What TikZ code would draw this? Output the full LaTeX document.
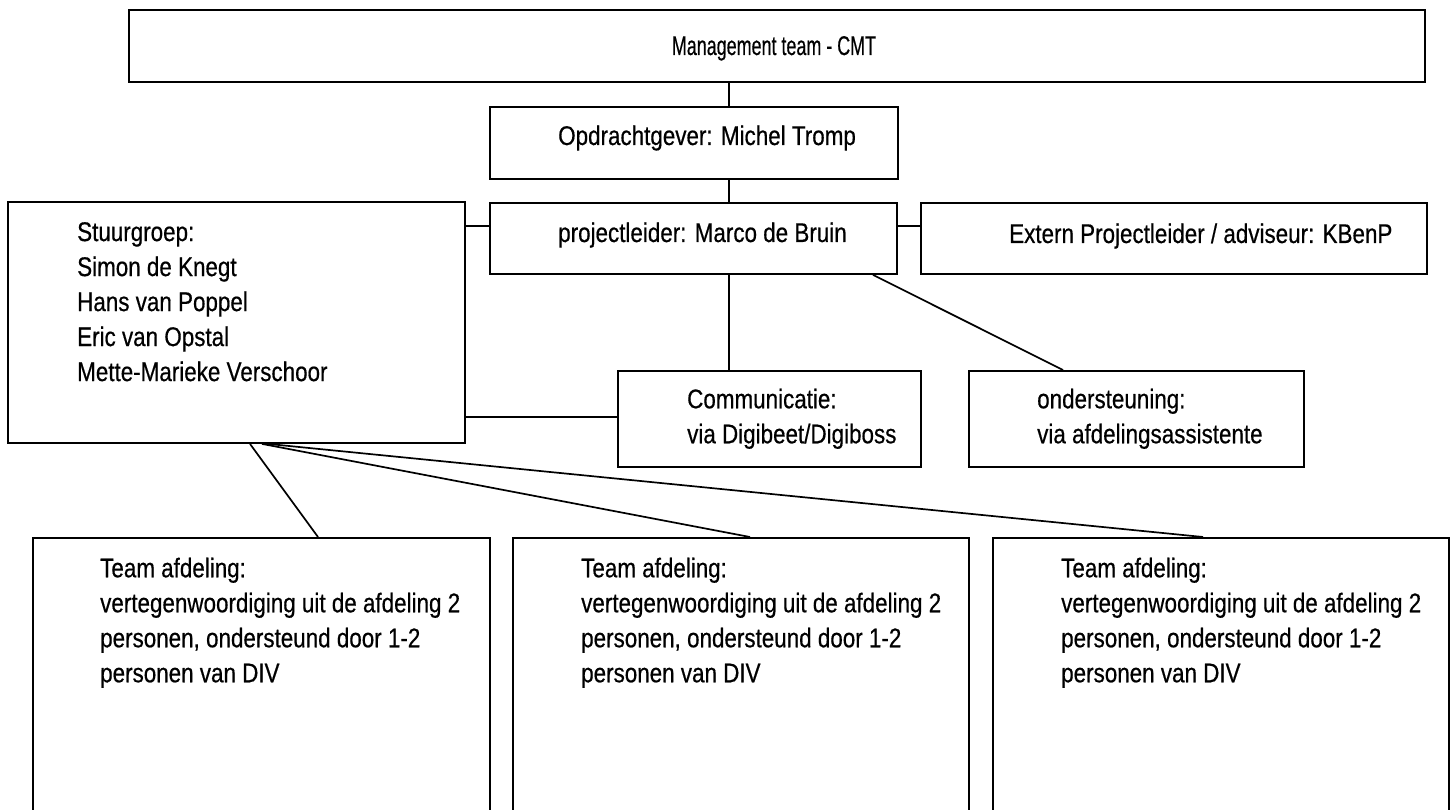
\documentclass[tikz,border=0pt]{standalone}
\usepackage{fontspec}
\usepackage{graphicx}
\setmainfont[FakeStretch=0.83,FakeBold=0.5]{Liberation Sans}
\begin{document}
\begin{tikzpicture}[x=1pt,y=-1pt,
  box/.style={draw=black, line width=1.9pt, rectangle, inner sep=0pt, anchor=north west},
  txt/.style={inner sep=0pt, font=\fontsize{27}{35}\selectfont, align=left},
  conn/.style={draw=black, line width=1.7pt}]
\useasboundingbox[fill=white] (0,0) rectangle (1453,810);
\clip (0,0) rectangle (1453,810);
% boxes
\node[box, minimum width=1296pt, minimum height=72pt] (mt)   at (128,9)   {};
\node[box, minimum width=408pt,  minimum height=72pt] (opd)  at (489,106) {};
\node[box, minimum width=407pt,  minimum height=71pt] (pl)   at (489,202) {};
\node[box, minimum width=506pt,  minimum height=71pt] (ext)  at (920,202) {};
\node[box, minimum width=457pt,  minimum height=241pt] (sg)  at (7,201)   {};
\node[box, minimum width=303pt,  minimum height=96pt] (comm) at (617,370) {};
\node[box, minimum width=335pt,  minimum height=96pt] (ond)  at (968,370) {};
\node[box, minimum width=457pt,  minimum height=300pt] (t1)  at (32,537)  {};
\node[box, minimum width=456pt,  minimum height=300pt] (t2)  at (512,537) {};
\node[box, minimum width=456pt,  minimum height=300pt] (t3)  at (992,537) {};
% texts
\node[txt, anchor=base] (mttxt) at (774,55) {\scalebox{0.8}[1]{Management team - CMT}};
\node[txt, anchor=base west] (opdtxt) at (558,145) {Opdrachtgever: Michel Tromp};
\node[txt, anchor=base west] (pltxt) at (558,242) {projectleider: Marco de Bruin};
\node[txt, anchor=base west] (exttxt) at (1009,243) {Extern Projectleider / adviseur: KBenP};
\node[txt, anchor=north west] (sgtxt) at (77,222) {Stuurgroep:\\Simon de Knegt\\Hans van Poppel\\Eric van Opstal\\Mette-Marieke Verschoor};
\node[txt, anchor=north west] (commtxt) at (687,388.5) {Communicatie:\\via Digibeet/Digiboss};
\node[txt, anchor=north west] (ondtxt) at (1037,388.5) {ondersteuning:\\via afdelingsassistente};
\node[txt, anchor=north west] (t1txt) at (100,557.5) {Team afdeling:\\vertegenwoordiging uit de afdeling 2\\personen, ondersteund door 1-2\\personen van DIV};
\node[txt, anchor=north west] (t2txt) at (581,557.5) {Team afdeling:\\vertegenwoordiging uit de afdeling 2\\personen, ondersteund door 1-2\\personen van DIV};
\node[txt, anchor=north west] (t3txt) at (1061,557.5) {Team afdeling:\\vertegenwoordiging uit de afdeling 2\\personen, ondersteund door 1-2\\personen van DIV};
% connector anchors
\coordinate (vx) at (729,0);
\coordinate (hy1) at (0,226);
\coordinate (hy2) at (0,417);
\coordinate (d1) at (873,0);
\coordinate (d2) at (1063,0);
\coordinate (s1) at (250,0);
\coordinate (s2) at (262,0);
\coordinate (s3) at (268,0);
\coordinate (e1) at (318,0);
\coordinate (e2) at (750,0);
\coordinate (e3) at (1203,0);
% connectors
\draw[conn] (vx |- mt.south) -- (vx |- opd.north);
\draw[conn] (vx |- opd.south) -- (vx |- pl.north);
\draw[conn] (vx |- pl.south) -- (vx |- comm.north);
\draw[conn] (sg.east |- hy1) -- (pl.west |- hy1);
\draw[conn] (pl.east |- hy1) -- (ext.west |- hy1);
\draw[conn] (sg.east |- hy2) -- (comm.west |- hy2);
\draw[conn] (d1 |- pl.south) -- (d2 |- ond.north);
\draw[conn] (s1 |- sg.south) -- (e1 |- t1.north);
\draw[conn] (s2 |- sg.south) -- (e2 |- t2.north);
\draw[conn] (s3 |- sg.south) -- (e3 |- t3.north);
\end{tikzpicture}
\end{document}
